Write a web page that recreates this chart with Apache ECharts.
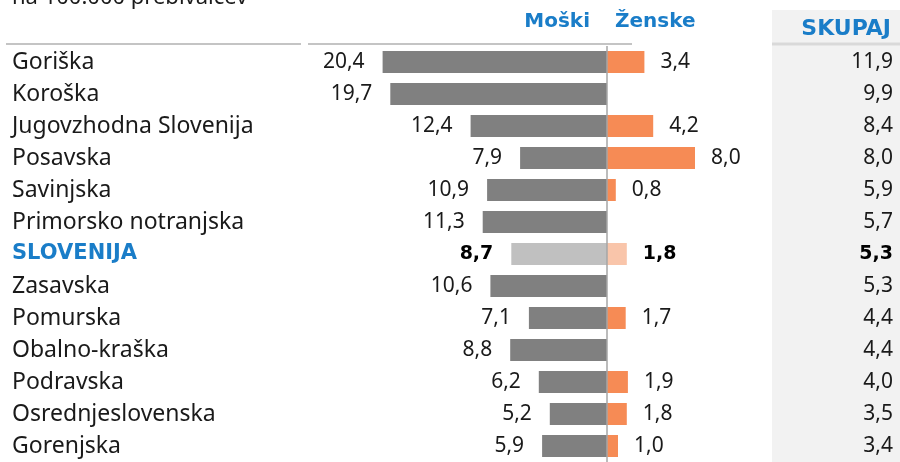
<!DOCTYPE html>
<html>
<head>
<meta charset="utf-8">
<script src="https://cdn.jsdelivr.net/npm/echarts@6/dist/echarts.min.js"></script>
<style>
  html, body { margin: 0; padding: 0; background: #fff; }
  #main { width: 900px; height: 462px; }
</style>
</head>
<body>
<div id="main"></div>
<script>
// regije, urejene po skupni stopnji
var regions = ['Goriška', 'Koroška', 'Jugovzhodna Slovenija', 'Posavska', 'Savinjska',
  'Primorsko notranjska', 'SLOVENIJA', 'Zasavska', 'Pomurska', 'Obalno-kraška',
  'Podravska', 'Osrednjeslovenska', 'Gorenjska'];
var male = [20.4, 19.7, 12.4, 7.9, 10.9, 11.3, 8.7, 10.6, 7.1, 8.8, 6.2, 5.2, 5.9];
var female = [3.4, null, 4.2, 8.0, 0.8, null, 1.8, null, 1.7, null, 1.9, 1.8, 1.0];
var total = [11.9, 9.9, 8.4, 8.0, 5.9, 5.7, 5.3, 5.3, 4.4, 4.4, 4.0, 3.5, 3.4];

var BLUE = '#1a7dc8';
var FONT = '"Noto Sans", sans-serif';
var BOLD = '"DejaVu Sans", sans-serif';
var TOTAL_IDX = regions.indexOf('SLOVENIJA');

function fmt(v) {
  return Math.abs(v).toFixed(1).replace('.', ',');
}

var myChart = echarts.init(document.getElementById('main'));

var boldLabel = { fontFamily: BOLD, fontSize: 19, fontWeight: 'bold', color: '#000' };

var option = {
  animation: false,
  grid: { left: 332, width: 385, top: 46, height: 418 },
  xAxis: {
    type: 'value', min: -25, max: 10,
    show: false
  },
  yAxis: [{
    type: 'category',
    data: regions,
    inverse: true,
    axisLine: { show: false, onZero: false },
    axisTick: { show: false },
    axisLabel: {
      margin: 320,
      align: 'left',
      formatter: function (v, i) {
        return i === TOTAL_IDX ? '{b|' + v + '}' : '{n|' + v + '}';
      },
      rich: {
        n: { fontFamily: FONT, fontSize: 23, color: '#1a1a1a' },
        b: { fontFamily: BOLD, fontSize: 21, fontWeight: 'bold', color: BLUE }
      }
    }
  }, {
    type: 'category',
    data: regions,
    inverse: true,
    position: 'right',
    axisLine: { show: false, onZero: false },
    axisTick: { show: false },
    axisLabel: {
      margin: 176,
      align: 'right',
      formatter: function (v, i) {
        return i === TOTAL_IDX ? '{b|' + fmt(total[i]) + '}' : '{n|' + fmt(total[i]) + '}';
      },
      rich: {
        n: { fontFamily: FONT, fontSize: 21, color: '#1a1a1a' },
        b: boldLabel
      }
    }
  }],
  series: [{
    name: 'Moški',
    type: 'bar',
    barWidth: 22,
    barGap: '-100%',
    data: male.map(function (v, i) {
      return {
        value: -v,
        itemStyle: { color: i === TOTAL_IDX ? '#c0c0c0' : '#808080' },
        label: i === TOTAL_IDX ? boldLabel : {}
      };
    }),
    label: {
      show: true, position: 'left', distance: 18,
      fontFamily: FONT, fontSize: 21, color: '#1a1a1a',
      formatter: function (p) { return fmt(p.value); }
    },
    markLine: {
      silent: true, symbol: 'none',
      lineStyle: { color: '#a6a6a6', width: 1.5, type: 'solid' },
      label: { show: false },
      data: [{ xAxis: 0 }]
    },
    z: 2
  }, {
    name: 'Ženske',
    type: 'bar',
    barWidth: 22,
    data: female.map(function (v, i) {
      return {
        value: v,
        itemStyle: { color: i === TOTAL_IDX ? '#f9c5aa' : '#f68b55' },
        label: i === TOTAL_IDX ? boldLabel : {}
      };
    }),
    label: {
      show: true, position: 'right', distance: 16,
      fontFamily: FONT, fontSize: 21, color: '#1a1a1a',
      formatter: function (p) { return p.value == null ? '' : fmt(p.value); }
    },
    z: 2
  }],
  graphic: [
    { type: 'rect', z: -10, shape: { x: 772, y: 10, width: 128, height: 452 }, style: { fill: '#f2f2f2' } },
    { type: 'line', shape: { x1: 6, y1: 44, x2: 301, y2: 44 }, style: { stroke: '#c4c4c4', lineWidth: 2 } },
    { type: 'line', shape: { x1: 308, y1: 44, x2: 632, y2: 44 }, style: { stroke: '#c4c4c4', lineWidth: 2 } },
    { type: 'line', shape: { x1: 772, y1: 44, x2: 900, y2: 44 }, style: { stroke: '#d9d9d9', lineWidth: 3 } },
    { type: 'text', x: 12, y: -13, style: { text: 'na 100.000 prebivalcev', font: '22px "Noto Sans", sans-serif', fill: '#1a1a1a' } },
    { type: 'text', x: 590, y: 22, style: { text: 'Moški', font: 'bold 20px "DejaVu Sans", sans-serif', fill: BLUE, align: 'right', verticalAlign: 'middle' } },
    { type: 'text', x: 615, y: 22, style: { text: 'Ženske', font: 'bold 20px "DejaVu Sans", sans-serif', fill: BLUE, verticalAlign: 'middle' } },
    { type: 'text', x: 891, y: 29, style: { text: 'SKUPAJ', font: 'bold 22px "DejaVu Sans", sans-serif', fill: BLUE, align: 'right', verticalAlign: 'middle' } }
  ]
};

myChart.setOption(option);
</script>
</body>
</html>
